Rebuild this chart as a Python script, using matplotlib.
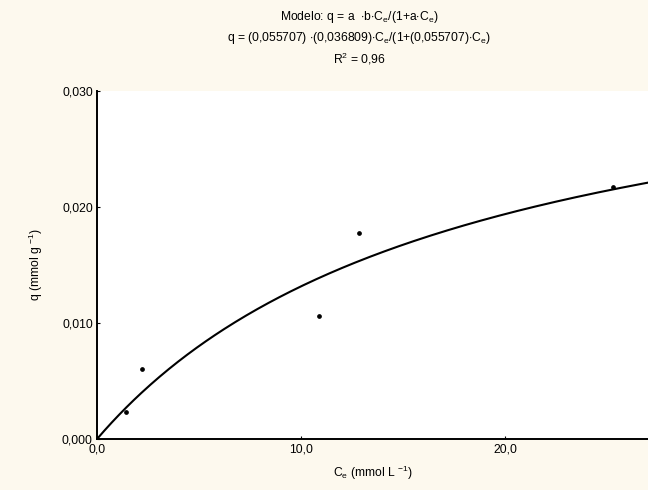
import numpy as np
import matplotlib
matplotlib.use('Agg')
import matplotlib.pyplot as plt

plt.rcParams['font.family'] = ['Liberation Sans', 'DejaVu Sans']
plt.rcParams['mathtext.fontset'] = 'custom'
plt.rcParams['mathtext.rm'] = 'Liberation Sans'
plt.rcParams['mathtext.it'] = 'Liberation Sans'

# experimental points
ce = [1.42, 2.2, 10.9, 12.84, 25.3]
q = [0.00235, 0.0060, 0.0106, 0.0178, 0.0217]

# Langmuir fit parameters
a = 0.055707
b = 0.036809
r2 = '0,96'

x_ticks = [0, 10, 20]
x_labels = ['0,0', '10,0', '20,0']
y_ticks = [0.0, 0.01, 0.02, 0.03]
y_labels = ['0,000', '0,010', '0,020', '0,030']

bg = '#FDF9EE'
fig = plt.figure(figsize=(6.48, 4.9), dpi=100, facecolor=bg)
ax = fig.add_axes([0.1497, 0.104, 0.8503, 0.710])
ax.set_facecolor('white')

xx = np.linspace(0, 27, 300)
ax.plot(xx, a * b * xx / (1 + a * xx), color='black', lw=1.5)
ax.plot(ce, q, 'o', color='black', ms=2.4)

ax.set_xlim(0, 27)
ax.set_ylim(0, 0.030)
ax.set_xticks(x_ticks)
ax.set_xticklabels(x_labels)
ax.set_yticks(y_ticks)
ax.set_yticklabels(y_labels)
ax.tick_params(direction='in', length=2, width=0.8, labelsize=8.7, pad=3)

for s in ['top', 'right']:
    ax.spines[s].set_visible(False)
for s in ['left', 'bottom']:
    ax.spines[s].set_linewidth(1.4)

ax.set_xlabel(r'C$_\mathrm{e}$ (mmol L $^{\mathrm{-1}}$)', fontsize=8.7, labelpad=6)
ax.set_ylabel(r'q (mmol g $^{\mathrm{-1}}$)', fontsize=8.7, labelpad=12)

fig.text(0.554, 0.965, r'Modelo: q = a  $\cdot$b$\cdot$C$_\mathrm{e}$/(1+a$\cdot$C$_\mathrm{e}$)',
         ha='center', va='center', fontsize=8.7)
fig.text(0.554, 0.922, r'q = (0,055707) $\cdot$(0,036809)$\cdot$C$_\mathrm{e}$/(1+(0,055707)$\cdot$C$_\mathrm{e}$)',
         ha='center', va='center', fontsize=8.7)
fig.text(0.554, 0.880, r'R$^\mathrm{2}$ = ' + r2, ha='center', va='center', fontsize=8.7)

fig.savefig('out.png', dpi=100, facecolor=bg)
